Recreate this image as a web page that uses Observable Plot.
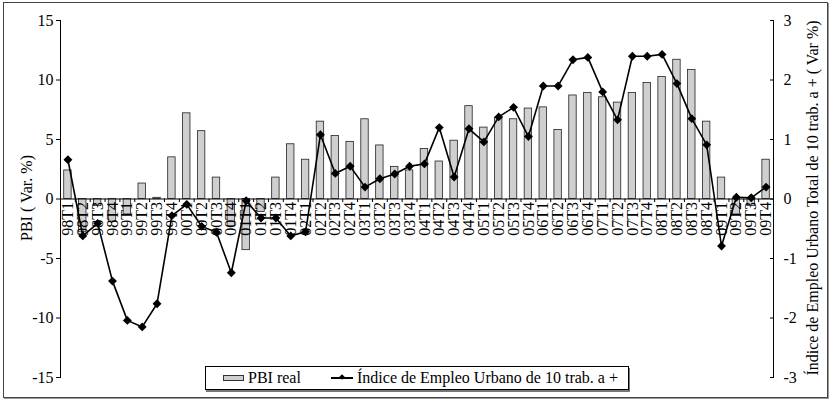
<!DOCTYPE html>
<html>
<head>
<meta charset="utf-8">
<script src="https://cdn.jsdelivr.net/npm/d3@7"></script>
<script src="https://cdn.jsdelivr.net/npm/@observablehq/plot@0.6"></script>
<style>
  html, body { margin: 0; padding: 0; background: #fff; }
  #wrap { position: relative; width: 831px; height: 402px; font-family: "Liberation Serif", "Times New Roman", serif; color: #000; }
  #chart { position: absolute; left: 0; top: 0; }
  #border { position: absolute; left: 3px; top: 2px; width: 823px; height: 394px; border: 1px solid #444; box-shadow: 1px 1px 0 #999; pointer-events: none; }
  .ytitle { position: absolute; font-size: 16px; white-space: nowrap; transform: translate(-50%, -50%) rotate(-90deg); }
  #legend { position: absolute; left: 205px; top: 366px; width: 422px; height: 22px; border: 1px solid #000; box-shadow: 1px 2px 0 #777; background: #fff; font-size: 16px; }
  #legend .txt { position: absolute; top: 0; line-height: 22px; white-space: nowrap; }
  #sw1 { position: absolute; left: 17px; top: 8px; width: 19px; height: 4px; background: #cfcfcf; border: 1px solid #333; }
  #sw2 { position: absolute; left: 125px; top: 10px; width: 22px; height: 1.5px; background: #000; }
  #sw2d { position: absolute; left: 134px; top: 8px; width: 4px; height: 4px; background: #000; transform: rotate(45deg); }
</style>
</head>
<body>
<div id="wrap">
  <div id="chart"></div>
  <div id="border"></div>
  <div class="ytitle" style="left:27px; top:198px;">PBI ( Var. %)</div>
  <div class="ytitle" style="left:813px; top:198px;">Índice de Empleo Urbano Total de 10 trab. a + ( Var %)</div>
  <div id="legend">
    <div id="sw1"></div>
    <div class="txt" style="left:42px;">PBI real</div>
    <div id="sw2"></div><div id="sw2d"></div>
    <div class="txt" style="left:151px;">Índice de Empleo Urbano de 10 trab. a +</div>
  </div>
</div>
<script>
const quarters = [
  "98T1","98T2","98T3","98T4","99T1","99T2","99T3","99T4",
  "00T1","00T2","00T3","00T4","01T1","01T2","01T3","01T4",
  "02T1","02T2","02T3","02T4","03T1","03T2","03T3","03T4",
  "04T1","04T2","04T3","04T4","05T1","05T2","05T3","05T4",
  "06T1","06T2","06T3","06T4","07T1","07T2","07T3","07T4",
  "08T1","08T2","08T3","08T4","09T1","09T2","09T3","09T4"
];
// PBI real (Var. %) - left axis
const pbi = [
  2.4, -2.8, -0.6, -1.9, -1.3, 1.3, 0.1, 3.5,
  7.2, 5.7, 1.8, -2.3, -4.3, -1.1, 1.8, 4.6,
  3.3, 6.5, 5.3, 4.8, 6.7, 4.5, 2.7, 2.4,
  4.2, 3.15, 4.9, 7.8, 6.0, 6.8, 6.7, 7.6,
  7.7, 5.8, 8.7, 8.9, 8.55, 8.1, 8.9, 9.75,
  10.25, 11.7, 10.85, 6.5, 1.8, -1.3, -0.6, 3.3
];
// Índice de Empleo Urbano (Var %) - right axis
const empleo = [
  0.66, -0.62, -0.41, -1.38, -2.04, -2.15, -1.76, -0.28,
  -0.09, -0.46, -0.56, -1.24, -0.03, -0.32, -0.32, -0.62,
  -0.55, 1.08, 0.43, 0.55, 0.2, 0.34, 0.42, 0.55,
  0.59, 1.2, 0.37, 1.18, 0.96, 1.38, 1.54, 1.05,
  1.9, 1.9, 2.34, 2.38, 1.8, 1.33, 2.4, 2.4,
  2.43, 1.94, 1.35, 0.91, -0.79, 0.03, 0.02, 0.2
];
const leftTicks = [-15, -10, -5, 0, 5, 10, 15];
const rightRatio = 5; // left units per right unit (15 <-> 3)

const data = quarters.map((q, i) => ({q, pbi: pbi[i], emp: empleo[i]}));

const W = 831, H = 402, mL = 60, mR = 58, mT = 20, mB = 25;
const halfStep = (W - mL - mR) / quarters.length / 2;

const chart = Plot.plot({
  width: W, height: H,
  marginLeft: mL, marginRight: mR, marginTop: mT, marginBottom: mB,
  style: {fontFamily: "Liberation Serif", fontSize: "16px", color: "#000", background: "transparent", overflow: "visible"},
  x: {type: "band", domain: quarters, paddingInner: 0.5, paddingOuter: 0.25, axis: null},
  y: {domain: [-15, 15], axis: null},
  marks: [
    Plot.frame({anchor: "left", stroke: "#000"}),
    Plot.frame({anchor: "right", stroke: "#000"}),
    Plot.axisY({anchor: "left", ticks: leftTicks, tickSize: 4, tickPadding: 3, tickFormat: d => String(d), label: null, fontSize: 16}),
    Plot.axisY({anchor: "right", ticks: leftTicks, tickSize: -4, tickPadding: 14, tickFormat: d => String(d / rightRatio), label: null, fontSize: 16}),
    Plot.barY(data, {x: "q", y: "pbi", fill: "#cfcfcf", stroke: "#222", strokeWidth: 0.8}),
    Plot.text(quarters, {x: d => d, y: 0, text: d => d, rotate: -90, textAnchor: "end", dy: 3, fontSize: 16, fill: "#000"}),
    Plot.ruleY([0], {stroke: "#000"}),
    Plot.ruleX(quarters, {x: d => d, y1: 0, y2: -0.3, dx: -halfStep, stroke: "#000"}),
    Plot.line(data, {x: "q", y: d => d.emp * rightRatio, stroke: "#000", strokeWidth: 1.6}),
    Plot.dot(data, {x: "q", y: d => d.emp * rightRatio, symbol: "diamond2", r: 4, fill: "#000", stroke: "none"})
  ]
});
document.getElementById("chart").appendChild(chart);
</script>
</body>
</html>
